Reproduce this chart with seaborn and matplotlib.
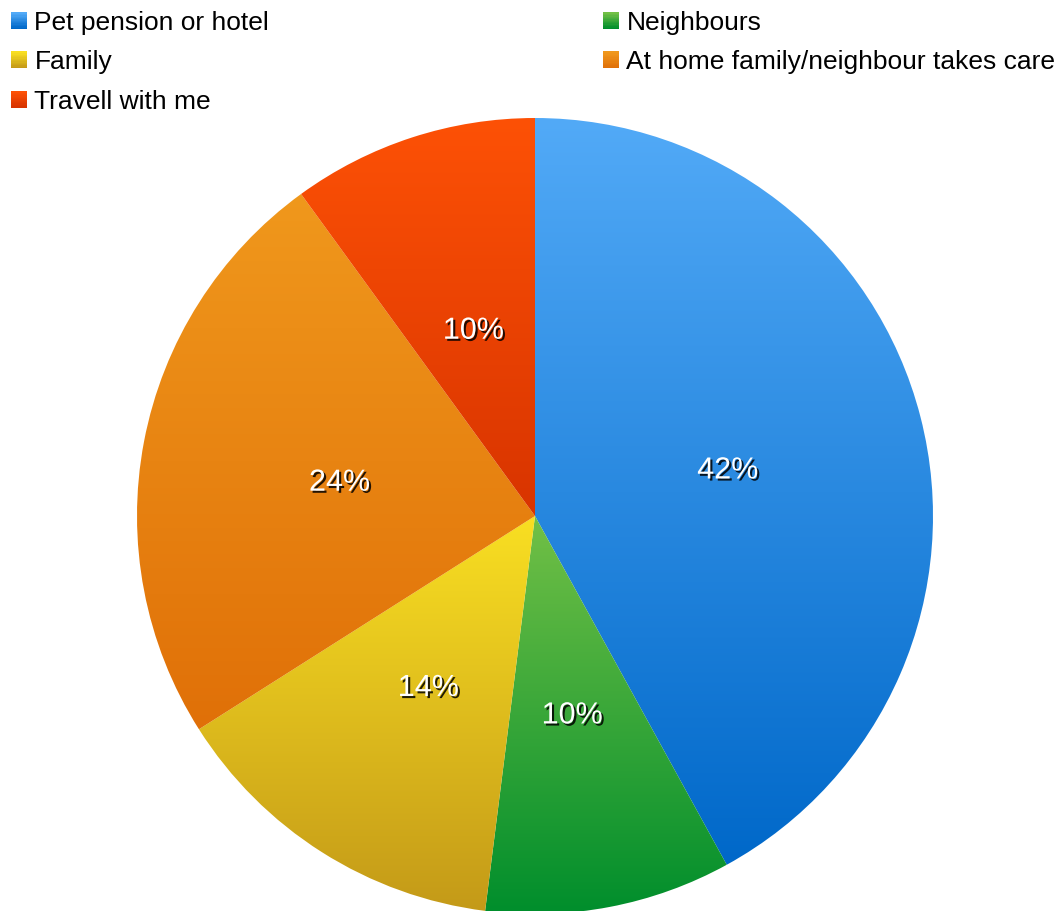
import numpy as np
import matplotlib
matplotlib.use("Agg")
import matplotlib.pyplot as plt
import seaborn as sns
from matplotlib import patheffects
from matplotlib.colors import to_rgb
from matplotlib.patches import Rectangle
from matplotlib.legend_handler import HandlerBase
from matplotlib.transforms import offset_copy

# Survey answers: who looks after the pet during holidays
categories = ["Pet pension or hotel", "Neighbours", "Family",
              "At home family/neighbour takes care", "Travell with me"]
shares = [42, 10, 14, 24, 10]

# Vertical gradient for each slice (top colour -> bottom colour)
top_colors = ["#52aaf7", "#72c046", "#f9df22", "#f0981c", "#fd5106"]
bottom_colors = ["#0068c9", "#008e2c", "#c49a18", "#e07008", "#d83400"]

sns.set_theme(style="white")
plt.rcParams["font.family"] = ["Liberation Sans", "DejaVu Sans"]

W, H = 1062, 911
fig = plt.figure(figsize=(W / 100, H / 100), dpi=100)
ax = fig.add_axes([0, 0, 1, 1])
ax.set_axis_off()

cx, cy, r = 535, H - 516, 398
wedges, _, autotexts = ax.pie(
    shares, startangle=90, counterclock=False, center=(cx, cy), radius=r,
    autopct="%.0f%%", pctdistance=0.5,
    textprops=dict(color="white", fontsize=22),
    wedgeprops=dict(linewidth=0),
)


def gradient(c_top, c_bot, n=256):
    t = np.linspace(0, 1, n)[:, None]
    return (1 - t) * np.array(to_rgb(c_bot)) + t * np.array(to_rgb(c_top))


for w, c_top, c_bot in zip(wedges, top_colors, bottom_colors):
    ext = w.get_path().get_extents()
    img = ax.imshow(gradient(c_top, c_bot)[:, None, :],
                    extent=[ext.x0, ext.x1, ext.y0, ext.y1], origin="lower",
                    aspect="auto", interpolation="bilinear", zorder=1)
    img.set_clip_path(w)
    w.set_facecolor("none")
    w.set_zorder(2)

# percentage labels sit slightly below the mid-radius point
label_trans = offset_copy(ax.transData, fig=fig, x=0, y=-4, units="dots")
for t in autotexts:
    t.set_zorder(4)
    t.set_transform(label_trans)
    t.set_path_effects([patheffects.withSimplePatchShadow(
        offset=(1.5, -1.5), shadow_rgbFace="black", alpha=0.85)])

ax.set_xlim(0, W)
ax.set_ylim(0, H)
ax.set_aspect("auto")


class GradientSquare(HandlerBase):
    """Legend key drawn as a small square with a vertical gradient."""

    def create_artists(self, legend, orig_handle, xdescent, ydescent,
                       width, height, fontsize, trans):
        c_top, c_bot = orig_handle.top, orig_handle.bot
        n = 12
        cols = gradient(c_top, c_bot, n)
        side = min(width, height)
        x0 = -xdescent + (width - side)
        y0 = -ydescent + (height - side) / 2
        arts = []
        for i in range(n):
            rect = Rectangle((x0, y0 + side * i / n), side, side / n + 0.3,
                             facecolor=cols[i], edgecolor="none", transform=trans)
            arts.append(rect)
        return arts


class Key:
    def __init__(self, top, bot):
        self.top, self.bot = top, bot


keys = [Key(t, b) for t, b in zip(top_colors, bottom_colors)]
legend_kw = dict(frameon=False, fontsize=19, borderpad=0, borderaxespad=0,
                 handlelength=0.62, handleheight=0.62, handletextpad=0.27,
                 labelspacing=0.58, loc="upper left",
                 handler_map={Key: GradientSquare()})
left_idx = [0, 2, 4]
right_idx = [1, 3]
leg1 = fig.legend([keys[i] for i in left_idx], [categories[i] for i in left_idx],
                  bbox_to_anchor=(11 / W, 1 - 11 / H), **legend_kw)
leg2 = fig.legend([keys[i] for i in right_idx], [categories[i] for i in right_idx],
                  bbox_to_anchor=(603 / W, 1 - 11 / H), **legend_kw)
for leg in (leg1, leg2):
    for txt in leg.get_texts():
        txt.set_color("black")

fig.savefig("out.png", dpi=100, facecolor="white")
